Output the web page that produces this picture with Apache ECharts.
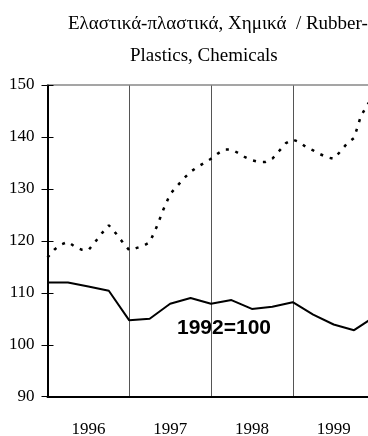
<!DOCTYPE html>
<html>
<head>
<meta charset="utf-8">
<script src="https://cdn.jsdelivr.net/npm/echarts@6/dist/echarts.min.js"></script>
<style>html,body{margin:0;padding:0;background:#fff;}#c{width:368px;height:436px;}</style>
</head>
<body>
<div id="c"></div>
<script>
const titleLine1 = "Ελαστικά-πλαστικά, Χημικά  / Rubber-";
const titleLine2 = "Plastics, Chemicals";
const years = ["1996", "1997", "1998", "1999"];
const yTicks = [90, 100, 110, 120, 130, 140, 150];
const note = "1992=100";
// solid series: quarterly points (month index from Jan 1996)
const solidMonths = [0, 3, 6, 9, 12, 15, 18, 21, 24, 27, 30, 33, 36, 39, 42, 45, 48];
const solidValues = [112.0, 112.0, 111.2, 110.4, 104.7, 105.0, 107.9, 109.0, 107.9, 108.6, 106.9, 107.3, 108.2, 105.8, 103.9, 102.8, 105.4];
// dotted series: monthly points
const dottedMonths = Array.from({length: 49}, (_, i) => i);
const dottedValues = [116.8, 118.3, 119.3, 119.8, 118.9, 118.3, 118.2, 119.8, 121.5, 123.0, 121.5, 119.8,
  118.2, 118.6, 119.0, 119.7, 122.6, 126.0, 129.0, 130.5, 132.0, 133.3, 134.2, 135.0,
  135.8, 136.8, 137.6, 137.6, 136.9, 136.1, 135.5, 135.2, 135.2, 135.8, 137.3, 138.8,
  139.5, 139.0, 138.0, 137.4, 136.7, 136.1, 135.8, 137.2, 138.8, 139.8, 144.0, 146.3, 148.0];

const chart = echarts.init(document.getElementById('c'), null, {renderer: 'canvas'});
const serif = '"Liberation Serif", "Times New Roman", serif';
chart.setOption({
  animation: false,
  backgroundColor: '#ffffff',
  title: [
    {text: titleLine1, left: 68, top: 15, padding: 0, textStyle: {fontFamily: serif, fontSize: 19, fontWeight: 'normal', color: '#000'}},
    {text: titleLine2, left: 130, top: 47, padding: 0, textStyle: {fontFamily: serif, fontSize: 19, fontWeight: 'normal', color: '#000'}}
  ],
  grid: {left: 47.5, right: -6.5, top: 85, bottom: 39.3, containLabel: false, outerBoundsMode: 'none'},
  xAxis: [
    {
      type: 'category', data: years, position: 'bottom', boundaryGap: true,
      axisLine: {show: true, lineStyle: {color: '#000', width: 2}},
      axisTick: {show: false},
      axisLabel: {fontFamily: serif, fontSize: 17, color: '#000', margin: 24},
      splitLine: {show: true, lineStyle: {color: '#555', width: 1}}
    },
    {
      type: 'value', min: 0, max: 48, position: 'top',
      axisLine: {show: true, onZero: false, lineStyle: {color: '#888', width: 1.5}},
      axisTick: {show: false}, axisLabel: {show: false}, splitLine: {show: false}
    }
  ],
  yAxis: [
    {
      type: 'value', min: 90, max: 150, interval: 10, position: 'left',
      axisLine: {show: true, lineStyle: {color: '#000', width: 2}},
      axisTick: {show: true, length: 6, lineStyle: {color: '#000', width: 1}},
      axisLabel: {fontFamily: serif, fontSize: 17, color: '#000', margin: 13,
        formatter: v => yTicks.includes(v) ? String(v) : ''},
      splitLine: {show: false}
    },
    {
      type: 'value', min: 90, max: 150, interval: 10, position: 'left',
      axisLine: {show: false},
      axisTick: {show: true, inside: true, length: 6, lineStyle: {color: '#000', width: 1}},
      axisLabel: {show: false}, splitLine: {show: false}
    }
  ],
  series: [
    {
      type: 'line', xAxisIndex: 1, yAxisIndex: 0, symbol: 'none',
      data: dottedMonths.map((m, i) => [m, dottedValues[i]]),
      lineStyle: {color: '#000', width: 2.5, type: [3, 7]}
    },
    {
      type: 'line', xAxisIndex: 1, yAxisIndex: 0, symbol: 'none',
      data: solidMonths.map((m, i) => [m, solidValues[i]]),
      lineStyle: {color: '#000', width: 2}
    }
  ],
  graphic: [
    {type: 'text', x: 224, y: 328, style: {text: note, fill: '#000', font: 'bold 21px "Liberation Sans", Arial, sans-serif', textAlign: 'center', textVerticalAlign: 'middle'}}
  ]
});
</script>
</body>
</html>
